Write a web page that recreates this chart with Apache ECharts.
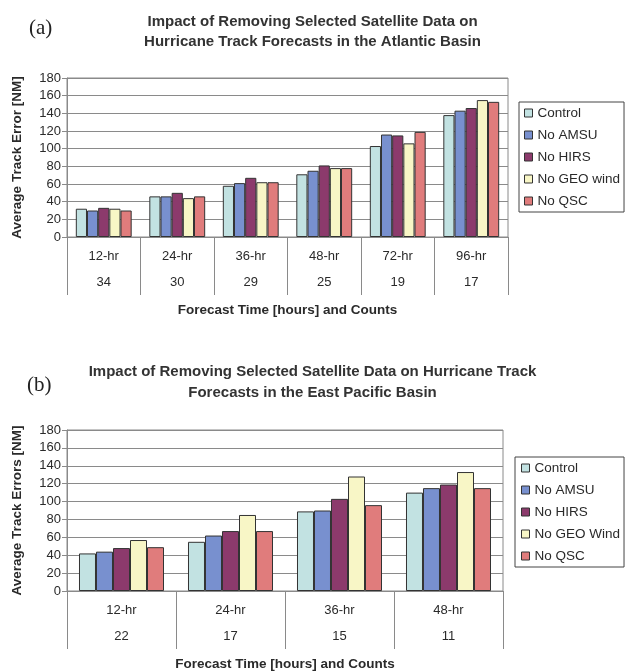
<!DOCTYPE html>
<html><head><meta charset="utf-8">
<script src="https://cdn.jsdelivr.net/npm/echarts@6/dist/echarts.min.js"></script>
<style>html,body{margin:0;padding:0;background:#fff}#c{width:625px;height:672px}</style>
</head><body><div id="c"></div>
<script>
const categoriesA = ['12-hr','24-hr','36-hr','48-hr','72-hr','96-hr'];
const countsA = ['34','30','29','25','19','17'];
const namesA = ['Control','No AMSU','No HIRS','No GEO wind','No QSC'];
const controlA = [32,46,58,71,103,138];
const amsuA    = [30,46,61,75,116,143];
const hirsA    = [33,50,67,81,115,146];
const geoA     = [32,44,62,78,106,155];
const qscA     = [30,46,62,78,119,153];

const categoriesB = ['12-hr','24-hr','36-hr','48-hr'];
const countsB = ['22','17','15','11'];
const namesB = ['Control','No AMSU','No HIRS','No GEO Wind','No QSC'];
const controlB = [42,55,89,110];
const amsuB    = [44,62,90,115];
const hirsB    = [48,67,103,119];
const geoB     = [57,85,128,133];
const qscB     = [49,67,96,115];

const yTicks = [0,20,40,60,80,100,120,140,160,180];

const colors = ['#c2e2e2','#7890cf','#8c3a6c','#f8f6c6','#e07c7c'];
const FONT = '"Liberation Sans", Arial, sans-serif';
const TXT = '#2a2a2a';
const GRIDC = '#8a8a8a';

const dataA = [controlA, amsuA, hirsA, geoA, qscA];
const dataB = [controlB, amsuB, hirsB, geoB, qscB];

function catAxis(gridIndex, cats){
  return {
    type:'category', gridIndex, data:cats, position:'bottom',
    axisLine:{show:true, lineStyle:{color:GRIDC, width:1}},
    axisTick:{show:true, length:58, lineStyle:{color:GRIDC, width:1}},
    axisLabel:{margin:13, fontSize:13, color:TXT, fontFamily:FONT},
    splitLine:{show:false}
  };
}
function countAxis(gridIndex, counts, name){
  return {
    type:'category', gridIndex, data:counts, position:'bottom', offset:26,
    axisLine:{show:false}, axisTick:{show:false},
    axisLabel:{margin:13, fontSize:13, color:TXT, fontFamily:FONT},
    name, nameLocation:'middle', nameGap:40,
    nameTextStyle:{fontSize:13.5, fontWeight:'bold', color:TXT, fontFamily:FONT}
  };
}
function valAxis(gridIndex, name){
  return {
    type:'value', gridIndex, min:yTicks[0], max:yTicks[yTicks.length-1], interval:yTicks[1]-yTicks[0],
    axisLine:{show:true, lineStyle:{color:GRIDC}},
    axisTick:{show:true, length:5, lineStyle:{color:GRIDC}},
    axisLabel:{margin:6, fontSize:13, color:TXT, fontFamily:FONT},
    splitLine:{show:true, lineStyle:{color:GRIDC, width:1}},
    name, nameLocation:'middle', nameRotate:90, nameGap:43,
    nameTextStyle:{fontSize:13.5, fontWeight:'bold', color:TXT, fontFamily:FONT}
  };
}

const series = [];
namesA.forEach((n,i)=>series.push({
  type:'bar', name:n, xAxisIndex:0, yAxisIndex:0, data:dataA[i],
  barGap:'0%', barCategoryGap:'24%',
  itemStyle:{color:colors[i], borderColor:'#333', borderWidth:1}
}));
namesB.forEach((n,i)=>series.push({
  type:'bar', name:n, xAxisIndex:2, yAxisIndex:1, data:dataB[i],
  barGap:'0%', barCategoryGap:'22%',
  itemStyle:{color:colors[i], borderColor:'#333', borderWidth:1}
}));

const legendBase = {
  orient:'vertical', icon:'rect', itemWidth:8, itemHeight:8, itemGap:8,
  borderColor:'#444', borderWidth:1, backgroundColor:'#fff',
  textStyle:{fontSize:13.5, color:TXT, fontFamily:FONT, lineHeight:14},
  itemStyle:{borderColor:'#333', borderWidth:1}
};

const chart = echarts.init(document.getElementById('c'), null, {renderer:'canvas'});
chart.setOption({
  animation:false,
  backgroundColor:'#fff',
  color:colors,
  title:[
    {text:'Impact of Removing Selected Satellite Data on\nHurricane Track Forecasts in the Atlantic Basin',
     left:'center', top:7, textStyle:{fontSize:15, fontWeight:'bold', color:'#333', fontFamily:FONT, lineHeight:20}},
    {text:'(a)', left:24, top:13, textStyle:{fontSize:21, fontWeight:'normal', color:'#222', fontFamily:'"Liberation Serif", "Times New Roman", serif'}},
    {text:'Impact of Removing Selected Satellite Data on Hurricane Track\nForecasts in the East Pacific Basin',
     left:'center', top:356, textStyle:{fontSize:15, fontWeight:'bold', color:'#333', fontFamily:FONT, lineHeight:21}},
    {text:'(b)', left:22, top:370, textStyle:{fontSize:21, fontWeight:'normal', color:'#222', fontFamily:'"Liberation Serif", "Times New Roman", serif'}}
  ],
  legend:[
    Object.assign({}, legendBase, {data:namesA, left:519, top:102, padding:[4,4,4,5]}),
    Object.assign({}, legendBase, {data:namesB, left:515, top:457, padding:[4,4,4,6]})
  ],
  grid:[
    {left:67, right:117, top:78, height:159, show:true, borderColor:GRIDC, borderWidth:1, backgroundColor:'#fff'},
    {left:67, right:122, top:430, height:162, show:true, borderColor:GRIDC, borderWidth:1, backgroundColor:'#fff'}
  ],
  xAxis:[
    catAxis(0, categoriesA), countAxis(0, countsA, 'Forecast Time [hours] and Counts'),
    catAxis(1, categoriesB), countAxis(1, countsB, 'Forecast Time [hours] and Counts')
  ],
  yAxis:[ valAxis(0, 'Average Track Error [NM]'), valAxis(1, 'Average Track Errors [NM]') ],
  series
});
</script></body></html>
